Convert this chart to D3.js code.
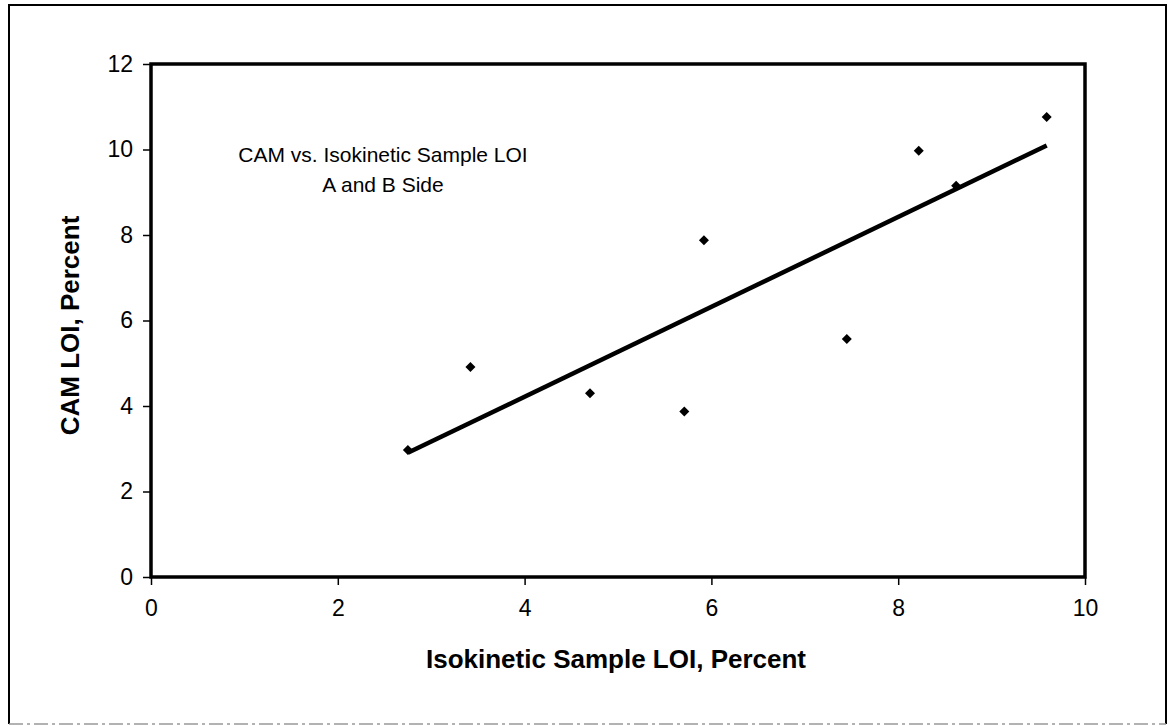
<!DOCTYPE html>
<html><head><meta charset="utf-8">
<script src="https://cdn.jsdelivr.net/npm/d3@7"></script>
<style>body{margin:0;background:#fff}svg{display:block}</style>
</head><body>
<script>
const xValues = [2.75, 3.42, 4.70, 5.71, 5.92, 7.45, 8.22, 8.62, 9.59];
const yValues = [2.97, 4.91, 4.30, 3.87, 7.88, 5.57, 9.97, 9.15, 10.76];
const xTicks = [0, 2, 4, 6, 8, 10];
const yTicks = [0, 2, 4, 6, 8, 10, 12];
const noteLines = ["CAM vs. Isokinetic Sample LOI", "A and B Side"];
const xTitle = "Isokinetic Sample LOI, Percent";
const yTitle = "CAM LOI, Percent";

const W = 1172, H = 726;
const L = 151, R = 1085, T = 64, B = 577;
const svg = d3.select("body").append("svg").attr("width", W).attr("height", H);
const font = "Arial, 'Liberation Sans', sans-serif";

// outer frame
svg.append("path").attr("d", `M9,724 L9,5 L1166,5 L1166,724`).attr("fill","none").attr("stroke","#000").attr("stroke-width",2);
svg.append("line").attr("x1",9).attr("x2",1166).attr("y1",724).attr("y2",724).attr("stroke","#999").attr("stroke-width",1.5).attr("stroke-dasharray","14,4,3,4");

const x = d3.scaleLinear().domain([0, 10]).range([L, R]);
const y = d3.scaleLinear().domain([0, 12]).range([B, T]);

// axes
const xAxis = svg.append("g").attr("transform", `translate(0,${B})`)
  .call(d3.axisBottom(x).tickValues(xTicks).tickSize(8).tickPadding(14).tickFormat(d3.format("d")));
const yAxis = svg.append("g").attr("transform", `translate(${L},0)`)
  .call(d3.axisLeft(y).tickValues(yTicks).tickSize(8).tickPadding(10).tickFormat(d3.format("d")));
[xAxis, yAxis].forEach(g => {
  g.select(".domain").remove();
  g.selectAll("line").attr("stroke","#000").attr("stroke-width",1.5);
  g.selectAll("text").attr("font-family", font).attr("font-size", 23).attr("fill","#000");
});
xAxis.selectAll("text").attr("dy", "0.72em");

// plot frame
svg.append("rect").attr("x", L).attr("y", T).attr("width", R - L).attr("height", B - T)
  .attr("fill","none").attr("stroke","#000").attr("stroke-width",3.5);

// trendline (least squares from data)
const n = xValues.length;
const mx = d3.mean(xValues), my = d3.mean(yValues);
let sxy = 0, sxx = 0;
for (let i = 0; i < n; i++) { sxy += (xValues[i]-mx)*(yValues[i]-my); sxx += (xValues[i]-mx)**2; }
const slope = sxy / sxx, icpt = my - slope * mx;
const x0 = d3.min(xValues), x1 = d3.max(xValues);
svg.append("line").attr("x1", x(x0)).attr("y1", y(icpt + slope*x0))
  .attr("x2", x(x1)).attr("y2", y(icpt + slope*x1))
  .attr("stroke","#000").attr("stroke-width",4.5).attr("stroke-linecap","butt");

// points
const sym = d3.symbol().type(d3.symbolSquare).size(50);
svg.append("g").selectAll("path").data(xValues.map((v,i)=>[v, yValues[i]])).join("path")
  .attr("d", sym)
  .attr("transform", d => `translate(${x(d[0])},${y(d[1])}) rotate(45)`)
  .attr("fill","#000");

// annotation
svg.append("g").selectAll("text").data(noteLines).join("text")
  .attr("x", 383).attr("y", (d,i) => 162 + i*30)
  .attr("text-anchor","middle").attr("font-family", font).attr("font-size", 21)
  .attr("fill","#000").text(d => d);

// axis titles
svg.append("text").attr("x", (L+R)/2 - 2).attr("y", 668).attr("text-anchor","middle")
  .attr("font-family", font).attr("font-size", 26).attr("font-weight","bold").text(xTitle);
svg.append("text").attr("transform", `translate(79,${(T+B)/2 + 5}) rotate(-90)`).attr("text-anchor","middle")
  .attr("font-family", font).attr("font-size", 26).attr("font-weight","bold").text(yTitle);
</script>
</body></html>
